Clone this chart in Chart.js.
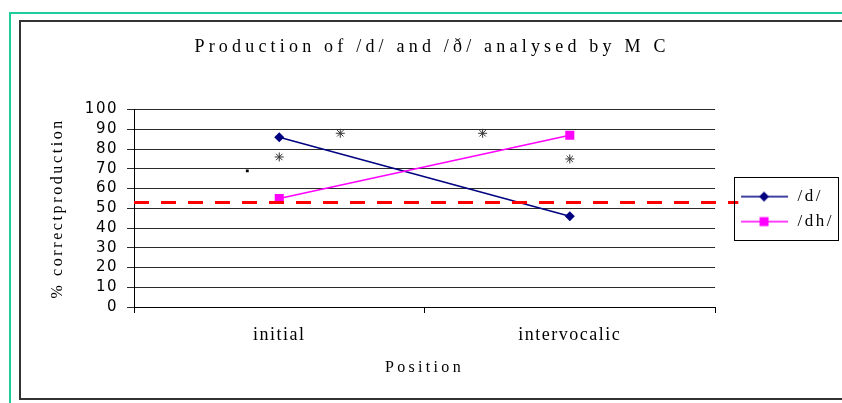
<!DOCTYPE html>
<html>
<head>
<meta charset="utf-8">
<script src="https://cdn.jsdelivr.net/npm/chart.js@4/dist/chart.umd.min.js"></script>
<style>
  html, body { margin: 0; padding: 0; background: #fff; }
  canvas { display: block; }
</style>
</head>
<body>
<canvas id="chart" width="842" height="403"></canvas>
<script>
const positions = ['initial', 'intervocalic'];
const dValues = [86, 46];
const dhValues = [55, 87];
const chanceLevel = 53;
// asterisks and the stray dot, x given as category index
const starMarks = [{x: 0, y: 76}, {x: 0.21, y: 88}, {x: 0.7, y: 88}, {x: 1, y: 75}];
const dotMarks = [{x: -0.11, y: 69}];

const navy = '#000080';
const magenta = '#ff00ff';

function legendSwatch(colour, style, r) {
  const c = document.createElement('canvas');
  c.width = 66;
  c.height = 14;
  const g = c.getContext('2d');
  g.strokeStyle = colour;
  g.lineWidth = 1.5;
  g.beginPath();
  g.moveTo(18, 7);
  g.lineTo(65, 7);
  g.stroke();
  g.fillStyle = colour;
  g.beginPath();
  if (style === 'diamond') {
    g.moveTo(41, 7 - r); g.lineTo(41 + r, 7); g.lineTo(41, 7 + r); g.lineTo(41 - r, 7);
    g.closePath();
  } else {
    g.rect(41 - r, 7 - r, 2 * r, 2 * r);
  }
  g.fill();
  return c;
}
const swatches = [legendSwatch(navy, 'diamond', 5), legendSwatch(magenta, 'square', 4.5)];

// the old chart's text is spaced out; give each text block its own letter spacing
function spaced(obj, name, spacing) {
  if (!obj || obj['_sp_' + name]) return;
  const orig = obj[name];
  obj[name] = function(...args) {
    const ctx = this.ctx;
    const prev = ctx.letterSpacing;
    ctx.letterSpacing = spacing;
    const r = orig.apply(this, args);
    ctx.letterSpacing = prev;
    return r;
  };
  obj['_sp_' + name] = true;
}

const framePlugin = {
  id: 'frame',
  beforeDraw(chart) {
    spaced(chart.titleBlock, 'draw', '4.2px');
    spaced(chart.legend, 'draw', '2.5px');
    spaced(chart.scales.x, 'drawTitle', '3.3px');
    spaced(chart.scales.y, 'drawTitle', '2.6px');
    spaced(chart.scales.x, 'drawLabels', '1.5px');
    spaced(chart.scales.y, 'drawLabels', '1.5px');

    const ctx = chart.ctx;
    ctx.save();
    ctx.fillStyle = '#fff';
    ctx.fillRect(0, 0, chart.width, chart.height);
    ctx.strokeStyle = '#1fcc9c';
    ctx.lineWidth = 2;
    ctx.beginPath();
    ctx.moveTo(10, 403);
    ctx.lineTo(10, 13);
    ctx.lineTo(842, 13);
    ctx.stroke();
    ctx.strokeStyle = '#333';
    ctx.beginPath();
    ctx.moveTo(842, 21);
    ctx.lineTo(20, 21);
    ctx.lineTo(20, 399);
    ctx.lineTo(842, 399);
    ctx.stroke();
    ctx.restore();
  },
  afterDraw(chart) {
    const ctx = chart.ctx;
    const boxes = chart.legend.legendHitBoxes;
    if (!boxes || !boxes.length) return;
    const last = boxes[boxes.length - 1];
    const left = chart.chartArea.right + 19;
    const right = chart.chartArea.right + 123;
    const top = boxes[0].top - 11;
    const bottom = last.top + last.height + 10;
    ctx.save();
    ctx.strokeStyle = '#000';
    ctx.lineWidth = 1;
    ctx.strokeRect(Math.round(left) + 0.5, Math.round(top) + 0.5, Math.round(right - left), Math.round(bottom - top));
    ctx.restore();
  }
};

const chart = new Chart(document.getElementById('chart'), {
  type: 'line',
  data: {
    labels: positions,
    datasets: [{
      label: 'chance',
      data: [{x: -0.5, y: chanceLevel}, {x: 1.58, y: chanceLevel}],
      parsing: false,
      borderColor: '#ff0000',
      borderWidth: 3,
      borderDash: [15, 12],
      pointRadius: 0,
      clip: false,
      order: 0
    }, {
      label: '/d/',
      data: dValues,
      borderColor: navy,
      backgroundColor: navy,
      borderWidth: 1.5,
      pointStyle: 'rectRot',
      pointRadius: 5,
      pointBorderWidth: 0,
      order: 2
    }, {
      label: '/dh/',
      data: dhValues,
      borderColor: magenta,
      backgroundColor: magenta,
      borderWidth: 1.5,
      pointStyle: 'rect',
      pointRadius: 6.4,
      pointBorderWidth: 0,
      order: 1
    }, {
      label: 'stars',
      data: starMarks,
      parsing: false,
      showLine: false,
      pointStyle: 'star',
      pointRadius: 4.5,
      pointBorderColor: '#333',
      pointBorderWidth: 1,
      order: 3
    }, {
      label: 'dot',
      data: dotMarks,
      parsing: false,
      showLine: false,
      pointStyle: 'rect',
      pointRadius: 2,
      pointBackgroundColor: '#000',
      pointBorderWidth: 0,
      order: 3
    }]
  },
  options: {
    responsive: false,
    animation: false,
    layout: { padding: { left: 30, right: 8, top: 20, bottom: 20 } },
    scales: {
      x: {
        offset: true,
        afterFit(scale) { scale.height = 76; },
        grid: { offset: true, drawOnChartArea: false, tickLength: 6, color: '#000' },
        border: { color: '#000', width: 1 },
        ticks: { padding: 11, color: '#000', font: { family: 'Liberation Serif', size: 18 } },
        title: {
          display: true,
          text: 'Position',
          color: '#000',
          padding: { top: 6, bottom: 6 },
          font: { family: 'Liberation Serif', size: 16 }
        }
      },
      y: {
        min: 0,
        max: 100,
        afterFit(scale) { scale.width = 104; },
        grid: { color: '#2a2a2a', tickLength: 7 },
        border: { color: '#000', width: 1 },
        ticks: { stepSize: 10, autoSkip: false, padding: 9, color: '#000', font: { family: 'DejaVu Sans', size: 15 } },
        title: {
          display: true,
          text: '% correctproduction',
          color: '#000',
          padding: { top: 18.5, bottom: 0 },
          font: { family: 'Liberation Serif', size: 16 }
        }
      }
    },
    plugins: {
      title: {
        display: true,
        text: 'Production of /d/ and /ð/ analysed by M C',
        color: '#000',
        padding: { top: 16, bottom: 52 },
        font: { family: 'Liberation Serif', size: 18, weight: 'normal' }
      },
      legend: {
        position: 'right',
        title: { display: true, text: ' ', padding: { top: 14, bottom: 0 }, font: { size: 1 } },
        labels: {
          usePointStyle: true,
          pointStyleWidth: 66,
          padding: 8,
          color: '#000',
          font: { family: 'Liberation Serif', size: 17 },
          generateLabels(chart) {
            return [1, 2].map((i, k) => ({
              text: chart.data.datasets[i].label,
              pointStyle: swatches[k],
              fillStyle: chart.data.datasets[i].borderColor,
              strokeStyle: chart.data.datasets[i].borderColor,
              fontColor: '#000',
              lineWidth: 0,
              hidden: false,
              datasetIndex: i
            }));
          }
        }
      },
      tooltip: { enabled: false }
    }
  },
  plugins: [framePlugin]
});
// redraw once so the spaced text wrappers are in place from the first frame
chart.draw();
</script>
</body>
</html>
